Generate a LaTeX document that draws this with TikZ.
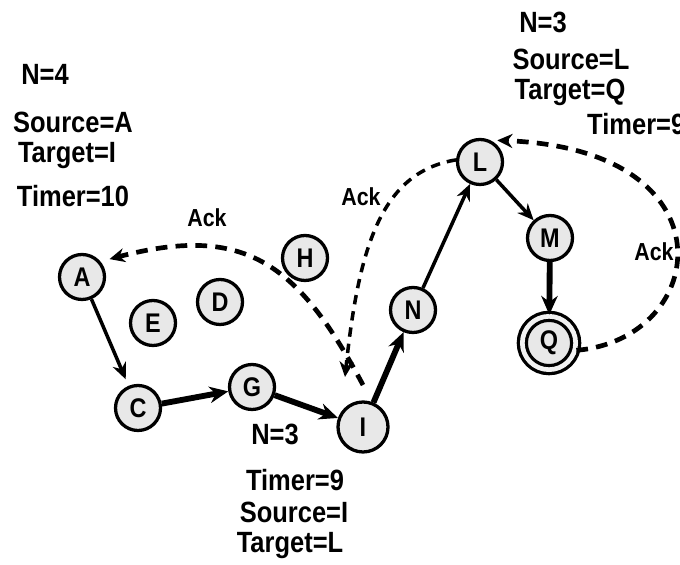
\documentclass[tikz,border=0pt]{standalone}
\usepackage{fontspec}
\setmainfont{Liberation Sans}[FakeStretch=0.87]
\usetikzlibrary{arrows.meta}

\begin{document}
\begin{tikzpicture}[x=0.03cm,y=0.03cm,
    state/.style={circle,draw,line width=2.8pt,fill=gray!18,minimum size=1.35cm,inner sep=0pt,font=\fontsize{23}{23}\selectfont\bfseries},
    final/.style={state,minimum size=1.6cm,double=gray!10,double distance=4pt},
    info/.style={anchor=base,inner sep=0pt,font=\fontsize{25}{25}\selectfont\bfseries},
    acklabel/.style={inner sep=0pt,font=\fontsize{21}{21}\selectfont\bfseries},
    hop/.style={-{Stealth[length=14pt,width=12pt]},line width=3pt},
    bighop/.style={-{Stealth[length=16pt,width=14pt]},line width=5pt},
    reply/.style={-{Stealth[length=13pt,width=12pt]},line width=4pt,dash pattern=on 10pt off 7pt}]
                \useasboundingbox (0,0) rectangle (680,564);
                % nodes
                \node [state] (A) at (82,287) {A};
                \node [state] (E) at (153,241) {E};
                \node [state] (D) at (220,262) {D};
                \node [state] (H) at (305,306) {H};
                \node [state] (C) at (138,156) {C};
                \node [state] (G) at (252,177) {G};
                \node [state,minimum size=1.5cm] (I) at (363,137) {I};
                \node [state] (N) at (413,254) {N};
                \node [state] (L) at (480,402) {L};
                \node [state] (M) at (550,326) {M};
                \node [final] (Q) at (549,221) {Q};
                % route
                \draw [hop,shorten >=6pt] (A) -- (C);
                \draw [bighop] (C) -- (G);
                \draw [bighop] (G) -- (I);
                \draw [bighop] (I) -- (N);
                \draw [hop] (N) -- (L);
                \draw [hop] (L) -- (M);
                \draw [bighop] (M) -- (Q);
                % acks
                \coordinate (fromI) at (363,179);
                \coordinate (toI) at (345,187);
                \draw [reply,shorten >=8pt] (fromI) .. controls (297,303) and (243,340) .. (A.40);
                \draw [reply,line width=3pt,dash pattern=on 8pt off 6pt] (L.175) .. controls (383,392) and (359,321) .. (toI);
                \draw [reply,shorten >=6pt] (Q.-15) .. controls (710,225) and (735,415) .. (L.65);
                \node [acklabel] (ack1) at (207,346) {Ack};
                \node [acklabel] (ack2) at (361,367) {Ack};
                \node [acklabel] (ack3) at (654,312) {Ack};
                % header texts
                \node [info] (n4) at (45,479) {N=4};
                \node [info] (srcA) at (73,431) {Source=A};
                \node [info] (tgtI) at (67,401) {Target=I};
                \node [info] (tmr10) at (73,357) {Timer=10};
                \node [info] (n3a) at (543,531) {N=3};
                \node [info] (srcL) at (571,494) {Source=L};
                \node [info] (tgtQ) at (570,464) {Target=Q};
                \node [info,anchor=base west] (tmr9a) at (587,429) {Timer=9};
                \node [info] (n3b) at (275,119) {N=3};
                \node [info] (tmr9b) at (295,74) {Timer=9};
                \node [info] (srcI) at (294,42) {Source=I};
                \node [info] (tgtL) at (290,12) {Target=L};
            \end{tikzpicture}
\end{document}
